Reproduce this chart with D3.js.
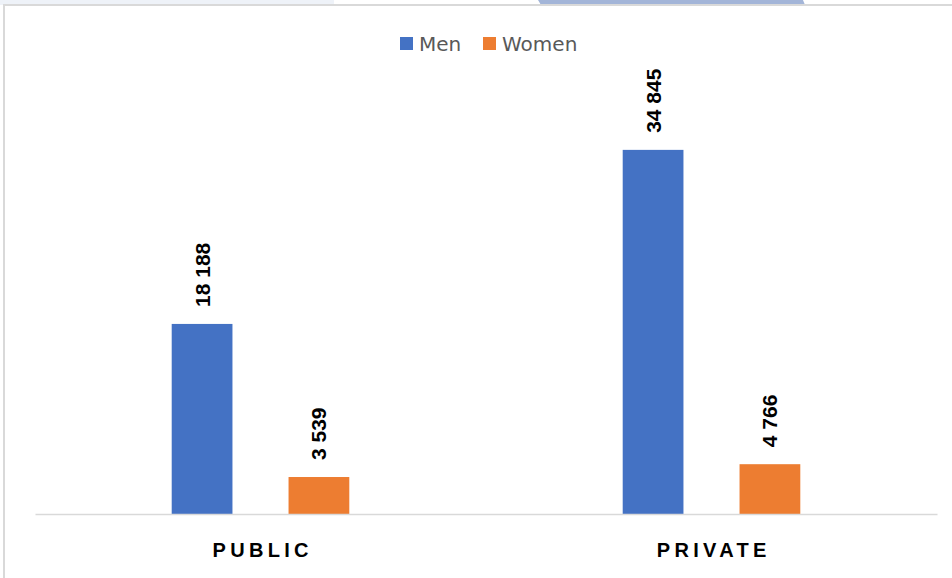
<!DOCTYPE html>
<html><head><meta charset="utf-8">
<script src="https://cdn.jsdelivr.net/npm/d3@7"></script>
<style>body{margin:0;background:#fff}svg{display:block}</style>
</head><body>
<script>
const categories = ["PUBLIC", "PRIVATE"];
const seriesNames = ["Men", "Women"];
const men = [18188, 34845];
const women = [3539, 4766];
const colors = ["#4472C4", "#ED7D31"];

const W = 952, H = 578;
const svg = d3.select("body").append("svg").attr("width", W).attr("height", H);

// background artifacts (top strip & borders)
svg.append("rect").attr("x",0).attr("y",0).attr("width",334).attr("height",5).attr("fill","#eef2f8");
svg.append("path").attr("d","M538,0 L803,0 L805,5 L541,5 Z").attr("fill","#a3b5d8");
svg.append("rect").attr("x",4).attr("y",4).attr("width",W-4).attr("height",2).attr("fill","#d9d9d9");
svg.append("rect").attr("x",3).attr("y",4).attr("width",2).attr("height",H-4).attr("fill","#d9d9d9");

const x0 = d3.scaleBand().domain(categories).range([35, 937]).paddingInner(0).paddingOuter(0);
const x1 = d3.scaleBand().domain(seriesNames).range([0, x0.bandwidth()]).paddingInner(0.48).paddingOuter(1.17);
const y = d3.scaleLinear().domain([0, 40000]).range([514, 96]);

const data = categories.map((c, i) => ({cat: c, vals: [men[i], women[i]]}));

const g = svg.append("g");
data.forEach(d => {
  d.vals.forEach((v, j) => {
    const bx = x0(d.cat) + x1(seriesNames[j]);
    g.append("rect").attr("x", bx).attr("y", y(v)).attr("width", x1.bandwidth())
      .attr("height", y(0) - y(v)).attr("fill", colors[j]);
    const cx = bx + x1.bandwidth() / 2;
    const ty = y(v) - 17;
    g.append("text").attr("transform", `translate(${cx + 7.5},${ty}) rotate(-90)`)
      .attr("font-family", "Liberation Sans, Arial, sans-serif").attr("font-weight", "bold")
      .attr("font-size", 21).attr("fill", "#000").text(d3.format(",")(v).replace(/,/g, " "));
  });
});

// axis
const xAxis = d3.axisBottom(x0).tickSize(0).tickPadding(0);
const ax = svg.append("g").attr("transform", `translate(0,${y(0)})`).call(xAxis);
ax.select(".domain").attr("stroke", "#d9d9d9").attr("stroke-width", 1.5);
ax.selectAll(".tick text").attr("y", 43).attr("dy", 0)
  .attr("font-family", "Liberation Sans, Arial, sans-serif").attr("font-weight", "bold")
  .attr("font-size", 20).attr("fill", "#000").attr("letter-spacing", 4.3)
  .attr("dx", 2.15);

// legend
const legend = svg.append("g");
const lx = [400, 483];
seriesNames.forEach((s, i) => {
  legend.append("rect").attr("x", lx[i]).attr("y", 37).attr("width", 13).attr("height", 13).attr("fill", colors[i]);
  legend.append("text").attr("x", lx[i] + 19).attr("y", 51)
    .attr("font-family", "DejaVu Sans, sans-serif").attr("font-size", 20).attr("fill", "#595959").text(s);
});
</script>
</body></html>
